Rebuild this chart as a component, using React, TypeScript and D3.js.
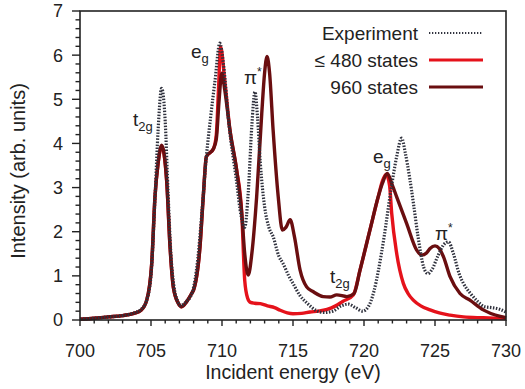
import React from "react";
import * as d3 from "d3";

// ---------- data ----------
const expEnergy = [700, 701, 702, 703, 703.8, 704.3, 704.7, 705.0, 705.3, 705.5, 705.75, 706.0, 706.2, 706.4, 706.6, 706.85, 707.1, 707.5, 707.9, 708.3, 708.6, 708.9, 709.2, 709.5, 709.85, 710.1, 710.5, 711.0, 711.35, 711.6, 711.85, 712.1, 712.32, 712.5, 712.7, 713.0, 713.3, 713.6, 714.0, 714.3, 714.7, 715.0, 715.5, 716.0, 716.6, 717.2, 717.8, 718.4, 718.9, 719.4, 719.9, 720.3, 720.7, 721.0, 721.4, 721.9, 722.3, 722.65, 722.9, 723.2, 723.5, 723.8, 724.2, 724.5, 724.8, 725.2, 725.6, 725.95, 726.3, 726.7, 727.0, 727.5, 728.0, 728.5, 729.0, 729.5, 730];
const expIntensity = [0.02, 0.04, 0.07, 0.1, 0.16, 0.24, 0.45, 1.0, 2.9, 4.3, 5.25, 4.5, 2.9, 1.5, 0.8, 0.45, 0.33, 0.42, 0.62, 1.4, 2.5, 3.7, 4.6, 5.4, 6.27, 5.8, 4.4, 3.2, 2.35, 2.1, 2.9, 4.4, 5.17, 4.6, 3.55, 2.57, 2.1, 1.89, 1.45, 1.28, 1.0, 0.83, 0.55, 0.38, 0.22, 0.17, 0.2, 0.32, 0.36, 0.28, 0.2, 0.3, 0.65, 1.1, 1.85, 2.95, 3.7, 4.12, 3.8, 3.25, 2.6, 1.9, 1.2, 1.05, 1.15, 1.45, 1.7, 1.77, 1.5, 1.05, 0.83, 0.6, 0.42, 0.3, 0.28, 0.25, 0.18];

const s960Energy = [700, 701, 702, 703, 703.8, 704.3, 704.7, 705.05, 705.28, 705.5, 705.75, 706.1, 706.34, 706.57, 706.92, 707.16, 707.5, 707.86, 708.0, 708.45, 708.68, 708.9, 709.4, 709.6, 709.8, 709.98, 710.2, 710.56, 711.03, 711.39, 711.6, 711.85, 712.1, 712.44, 712.8, 713.0, 713.17, 713.35, 713.6, 713.96, 714.25, 714.5, 714.8, 715.1, 715.5, 715.96, 716.43, 717.13, 717.6, 718.08, 718.8, 719.3, 719.72, 720.42, 721.0, 721.3, 721.64, 722.0, 722.3, 723.0, 723.7, 724.06, 724.4, 724.65, 725.0, 725.3, 725.6, 726.06, 726.76, 727.46, 728.4, 729.6, 730];
const s960Intensity = [0.02, 0.04, 0.07, 0.1, 0.15, 0.22, 0.45, 1.28, 2.79, 3.55, 3.96, 3.17, 1.66, 0.75, 0.38, 0.3, 0.41, 0.6, 0.68, 1.66, 2.79, 3.7, 3.88, 4.1, 5.0, 5.59, 5.2, 4.3, 3.4, 2.42, 1.5, 1.02, 1.5, 2.79, 4.68, 5.6, 5.97, 5.6, 4.3, 2.79, 2.04, 2.1, 2.27, 1.89, 1.13, 0.75, 0.64, 0.53, 0.52, 0.57, 0.53, 0.6, 1.13, 2.04, 2.79, 3.1, 3.32, 3.05, 2.79, 2.19, 1.59, 1.47, 1.52, 1.62, 1.68, 1.62, 1.43, 0.98, 0.6, 0.45, 0.23, 0.08, 0.05];

const s480Energy = [700, 701, 702, 703, 703.8, 704.3, 704.7, 705.05, 705.28, 705.5, 705.75, 706.1, 706.34, 706.57, 706.92, 707.16, 707.5, 707.86, 708.0, 708.45, 708.68, 708.9, 709.4, 709.6, 709.75, 709.9, 710.2, 710.56, 711.03, 711.39, 711.6, 711.8, 712.0, 712.3, 712.7, 713.2, 713.7, 714.1, 714.6, 715.0, 715.6, 716.2, 716.8, 717.4, 718.0, 718.5, 719.25, 719.72, 720.42, 721.0, 721.3, 721.55, 721.8, 721.95, 722.3, 722.77, 723.1, 723.47, 724.0, 724.65, 725.3, 726.06, 727.0, 728.4, 730];
const s480Intensity = [0.02, 0.04, 0.07, 0.1, 0.15, 0.22, 0.45, 1.28, 2.79, 3.55, 3.93, 3.17, 1.66, 0.75, 0.38, 0.3, 0.41, 0.6, 0.68, 1.66, 2.79, 3.7, 3.88, 4.2, 5.2, 6.19, 5.4, 4.3, 3.4, 2.42, 0.9, 0.5, 0.4, 0.38, 0.37, 0.32, 0.28, 0.22, 0.16, 0.14, 0.15, 0.18, 0.2, 0.24, 0.32, 0.42, 0.57, 1.13, 2.04, 2.79, 3.15, 3.3, 3.05, 2.42, 1.51, 0.83, 0.6, 0.45, 0.32, 0.23, 0.16, 0.11, 0.07, 0.05, 0.03];

const xTicks = [700, 705, 710, 715, 720, 725, 730];
const yTicks = [0, 1, 2, 3, 4, 5, 6, 7];
const legendLabels = ["Experiment", "\u2264 480 states", "960 states"];

// ---------- layout ----------
const W = 525;
const H = 389;
const M = { left: 80, right: 19, top: 11, bottom: 69 };
const FONT = "'Liberation Sans', Arial, Helvetica, sans-serif";
const C_EXP = "#30323e";
const C_480 = "#e5121b";
const C_960 = "#6a0e10";

export default function App() {
  const x = d3.scaleLinear().domain([700, 730]).range([M.left, W - M.right]);
  const y = d3.scaleLinear().domain([0, 7]).range([H - M.bottom, M.top]);

  const line = d3
    .line<[number, number]>()
    .x((d) => x(d[0]))
    .y((d) => y(d[1]))
    .curve(d3.curveMonotoneX);

  const zip = (a: number[], b: number[]) => a.map((v, i) => [v, b[i]] as [number, number]);

  const xMinor = d3.range(700, 731, 1);
  const yMinor = d3.range(0, 7.001, 0.2);

  const legendY = [33, 60, 87];

  return (
    <svg width={W} height={H} style={{ position: "absolute", left: 0, top: 0 }}>
      <rect x={0} y={0} width={W} height={H} fill="#fff" />
      <g>
        <path d={line(zip(s480Energy, s480Intensity)) || ""} fill="none" stroke={C_480} strokeWidth={3.4} strokeLinejoin="round" />
        <path d={line(zip(s960Energy, s960Intensity)) || ""} fill="none" stroke={C_960} strokeWidth={3.4} strokeLinejoin="round" />
        <path d={line(zip(expEnergy, expIntensity)) || ""} fill="none" stroke={C_EXP} strokeWidth={3.2} strokeDasharray="1.5 1.5" />
      </g>
      {/* frame */}
      <rect x={M.left} y={M.top} width={W - M.left - M.right} height={H - M.top - M.bottom} fill="none" stroke="#222" strokeWidth={1.6} />
      {/* x ticks */}
      {xMinor.map((v) => (
        <line key={"xm" + v} x1={x(v)} x2={x(v)} y1={y(0)} y2={y(0) + (v % 5 === 0 ? 6 : 3.5)} stroke="#222" strokeWidth={1.4} />
      ))}
      {xTicks.map((v) => (
        <text key={"xl" + v} x={x(v)} y={357} textAnchor="middle" fontFamily={FONT} fontSize={18} fill="#222">
          {v}
        </text>
      ))}
      {/* y ticks */}
      {yMinor.map((v, i) => (
        <line key={"ym" + i} x1={M.left - (i % 5 === 0 ? 8 : 4.5)} x2={M.left} y1={y(v)} y2={y(v)} stroke="#222" strokeWidth={1.4} />
      ))}
      {yTicks.map((v) => (
        <text key={"yl" + v} x={63} y={y(v)} dy="0.36em" textAnchor="end" fontFamily={FONT} fontSize={18} fill="#222">
          {v}
        </text>
      ))}
      {/* axis titles */}
      <text x={(M.left + W - M.right) / 2} y={379} textAnchor="middle" fontFamily={FONT} fontSize={19.5} fill="#222">
        Incident energy (eV)
      </text>
      <text transform="translate(25,171) rotate(-90)" textAnchor="middle" fontFamily={FONT} fontSize={20} fill="#222">
        Intensity (arb. units)
      </text>
      {/* legend */}
      {legendLabels.map((l, i) => (
        <g key={l}>
          <text x={418} y={legendY[i]} dy="0.36em" textAnchor="end" fontFamily={FONT} fontSize={19} fill="#222">
            {l}
          </text>
          <line
            x1={429}
            x2={483}
            y1={legendY[i]}
            y2={legendY[i]}
            stroke={i === 0 ? C_EXP : i === 1 ? C_480 : C_960}
            strokeWidth={i === 0 ? 2 : 3.2}
            strokeDasharray={i === 0 ? "1.3 1.7" : undefined}
          />
        </g>
      ))}
      {/* peak annotations */}
      <g fontFamily={FONT} fill="#222">
        <text x={133} y={126} fontSize={19}>
          t<tspan fontSize={13} dy={5}>2g</tspan>
        </text>
        <text x={191} y={58} fontSize={19}>
          e<tspan fontSize={13} dy={5}>g</tspan>
        </text>
        <text x={244} y={84} fontSize={19}>
          π<tspan fontSize={12} dy={-8}>*</tspan>
        </text>
        <text x={373} y={163} fontSize={19}>
          e<tspan fontSize={13} dy={5}>g</tspan>
        </text>
        <text x={435} y={240} fontSize={19}>
          π<tspan fontSize={12} dy={-8}>*</tspan>
        </text>
        <text x={330} y={283} fontSize={19}>
          t<tspan fontSize={13} dy={5}>2g</tspan>
        </text>
      </g>
    </svg>
  );
}
